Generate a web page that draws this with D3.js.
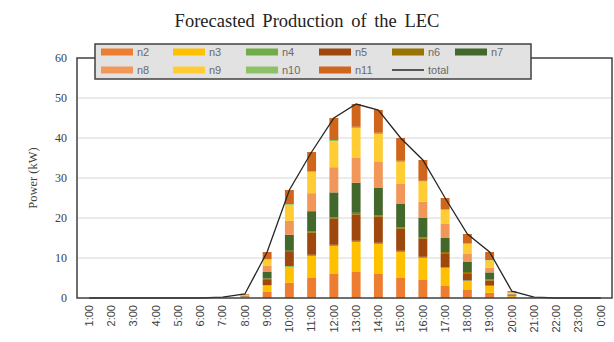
<!DOCTYPE html>
<html>
<head>
<meta charset="utf-8">
<script src="https://cdn.jsdelivr.net/npm/d3@7"></script>
<style>
  body { margin: 0; background: #fff; }
  svg { display: block; }
</style>
</head>
<body>
<script>
// hours on the x axis
const hours = ["1:00","2:00","3:00","4:00","5:00","6:00","7:00","8:00","9:00","10:00","11:00","12:00",
               "13:00","14:00","15:00","16:00","17:00","18:00","19:00","20:00","21:00","22:00","23:00","0:00"];

// forecasted production per node (kW)
const n2  = [0,0,0,0,0,0,0.03,0.15,1.5,3.8,5.0,6.0,6.5,6.0,5.0,4.5,3.0,2.0,1.3,0.2,0.02,0,0,0];
const n3  = [0,0,0,0,0,0,0.03,0.15,1.6,4.0,5.5,7.0,7.5,7.5,6.5,5.5,4.5,2.2,1.7,0.25,0.03,0,0,0];
const n4  = [0,0,0,0,0,0,0,0,0.1,0.2,0.3,0.3,0.3,0.3,0.3,0.3,0.2,0.2,0.1,0,0,0,0,0];
const n5  = [0,0,0,0,0,0,0.02,0.1,1.5,3.5,5.5,6.5,6.5,6.5,5.5,4.5,3.5,1.8,1.3,0.2,0.02,0,0,0];
const n6  = [0,0,0,0,0,0,0,0.05,0.2,0.3,0.4,0.4,0.5,0.4,0.4,0.3,0.3,0.3,0.2,0.05,0,0,0,0];
const n7  = [0,0,0,0,0,0,0.02,0.1,1.6,4.0,5.0,6.2,7.5,6.8,5.8,5.0,3.5,2.5,1.8,0.2,0.03,0,0,0];
const n8  = [0,0,0,0,0,0,0.03,0.15,1.5,3.5,4.5,6.3,6.2,6.5,5.0,4.0,3.5,2.0,1.2,0.2,0.02,0,0,0];
const n9  = [0,0,0,0,0,0,0.03,0.15,1.6,4.0,5.3,6.5,7.5,7.0,5.5,5.0,3.5,2.5,1.8,0.3,0.03,0,0,0];
const n10 = [0,0,0,0,0,0,0,0,0.1,0.2,0.2,0.3,0.3,0.3,0.3,0.2,0.2,0.2,0.1,0,0,0,0,0];
const n11 = [0,0,0,0,0,0,0.04,0.15,1.8,3.5,4.8,5.5,5.7,5.7,5.7,5.2,2.8,2.3,2.0,0.3,0.05,0,0,0];

const seriesNames = ["n2","n3","n4","n5","n6","n7","n8","n9","n10","n11"];
const seriesValues = [n2, n3, n4, n5, n6, n7, n8, n9, n10, n11];
const seriesColors = ["#ED7D31","#FFC000","#70AD47","#9E480E","#997300","#43682B",
                      "#F1975A","#FFCD33","#8CC168","#D0651C"];
const yTicks = [0, 10, 20, 30, 40, 50, 60];

const width = 614, height = 342;
const margin = { top: 58, right: 2, bottom: 44, left: 77 };

const svg = d3.select("body").append("svg")
    .attr("width", width)
    .attr("height", height);

// build rows for the stack
const rows = hours.map((h, i) => {
    const r = { hour: h };
    seriesNames.forEach((s, j) => r[s] = seriesValues[j][i]);
    return r;
});
const stacked = d3.stack().keys(seriesNames)(rows);
const totals = rows.map(r => ({ hour: r.hour, total: d3.sum(seriesNames, s => r[s]) }));

const x = d3.scaleBand()
    .domain(hours)
    .range([margin.left + 1, width - margin.right])
    .padding(0);

const y = d3.scaleLinear()
    .domain([0, 60])
    .range([height - margin.bottom, margin.top]);

const barW = x.bandwidth() * 0.4;

// gridlines
svg.append("g")
    .selectAll("line")
    .data(yTicks.filter(t => t > 0 && t < 60))
    .enter().append("line")
    .attr("x1", margin.left)
    .attr("x2", width - margin.right)
    .attr("y1", d => y(d))
    .attr("y2", d => y(d))
    .attr("stroke", "#e4e4e4")
    .attr("stroke-width", 1.5);

// stacked bars
svg.append("g")
    .selectAll("g")
    .data(stacked)
    .enter().append("g")
    .attr("fill", (d, i) => seriesColors[i])
    .selectAll("rect")
    .data(d => d)
    .enter().append("rect")
    .attr("x", d => x(d.data.hour) + x.bandwidth() / 2 - barW / 2)
    .attr("width", barW)
    .attr("y", d => y(d[1]))
    .attr("height", d => Math.max(0, y(d[0]) - y(d[1])));

// total line
const line = d3.line()
    .x(d => x(d.hour) + x.bandwidth() / 2)
    .y(d => y(d.total));

svg.append("path")
    .datum(totals)
    .attr("fill", "none")
    .attr("stroke", "#262626")
    .attr("stroke-width", 1.3)
    .attr("d", line);

// plot frame
svg.append("rect")
    .attr("x", margin.left)
    .attr("y", margin.top)
    .attr("width", width - margin.right - margin.left)
    .attr("height", height - margin.bottom - margin.top)
    .attr("fill", "none")
    .attr("stroke", "#404040")
    .attr("stroke-width", 1.5);

// y axis labels
const yAxis = d3.axisLeft(y).tickValues(yTicks).tickSize(0).tickPadding(10);
const gy = svg.append("g")
    .attr("transform", `translate(${margin.left},0)`)
    .attr("color", "#404040")
    .call(yAxis);
gy.select(".domain").remove();
gy.selectAll("text")
    .attr("font-family", "Liberation Serif, serif")
    .attr("font-size", 12)
    .attr("fill", "#404040");

// x axis labels
const xAxis = d3.axisBottom(x).tickSize(0).tickPadding(0);
const gx = svg.append("g")
    .attr("transform", `translate(0,${height - margin.bottom})`)
    .attr("color", "#404040")
    .call(xAxis);
gx.select(".domain").remove();
gx.selectAll("text")
    .attr("font-family", "Liberation Sans, Arial, sans-serif")
    .attr("font-size", 11)
    .attr("fill", "#404040")
    .attr("text-anchor", "end")
    .attr("dy", "0.35em")
    .attr("transform", "translate(0,7) rotate(-90)")
    .attr("x", 0)
    .attr("y", 0);

// y axis title
svg.append("text")
    .attr("transform", `translate(37,${(margin.top + height - margin.bottom) / 2}) rotate(-90)`)
    .attr("text-anchor", "middle")
    .attr("font-family", "Liberation Serif, serif")
    .attr("font-size", 12.5)
    .attr("fill", "#404040")
    .text("Power (kW)");

// title
svg.append("text")
    .attr("x", 307)
    .attr("y", 27)
    .attr("text-anchor", "middle")
    .attr("font-family", "Liberation Serif, serif")
    .attr("font-size", 18.5)
    .attr("word-spacing", 3)
    .attr("fill", "#222")
    .text("Forecasted Production of the LEC");

// legend
const legendItems = seriesNames.map((s, i) => ({ name: s, color: seriesColors[i], type: "bar" }))
    .concat([{ name: "total", color: "#262626", type: "line" }]);
const colX = [101, 173, 246, 319, 392, 455];
const rowY = [52, 70];

const legend = svg.append("g");
legend.append("rect")
    .attr("x", 95)
    .attr("y", 44)
    .attr("width", 436)
    .attr("height", 35)
    .attr("fill", "#e2e2e2")
    .attr("stroke", "#404040")
    .attr("stroke-width", 1.5);

const item = legend.selectAll("g.item")
    .data(legendItems)
    .enter().append("g")
    .attr("class", "item")
    .attr("transform", (d, i) => {
        const r = i < 6 ? 0 : 1;
        const c = i < 6 ? i : i - 6;
        return `translate(${colX[c]},${rowY[r]})`;
    });

item.filter(d => d.type === "bar").append("rect")
    .attr("x", 0)
    .attr("y", -3.5)
    .attr("width", 32)
    .attr("height", 7)
    .attr("fill", d => d.color);

item.filter(d => d.type === "line").append("line")
    .attr("x1", 0)
    .attr("x2", 32)
    .attr("y1", 0)
    .attr("y2", 0)
    .attr("stroke", d => d.color)
    .attr("stroke-width", 1.5);

item.append("text")
    .attr("x", 36)
    .attr("y", 0)
    .attr("dy", "0.35em")
    .attr("font-family", "Liberation Sans, Arial, sans-serif")
    .attr("font-size", 11)
    .attr("fill", "#6a6a6a")
    .text(d => d.name);
</script>
</body>
</html>
